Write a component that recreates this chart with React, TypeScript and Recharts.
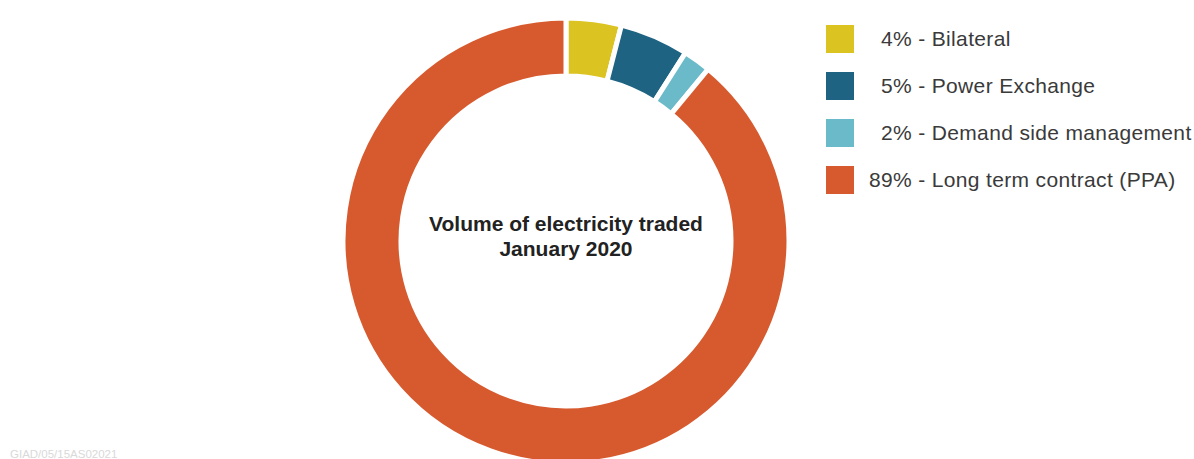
import { PieChart, Pie, Cell } from "recharts";

const categories = ["Bilateral", "Power Exchange", "Demand side management", "Long term contract (PPA)"];
const shares = [4, 5, 2, 89];
const colors = ["#dbc321", "#1e6482", "#6bbac9", "#d75a2f"];
const titleLines = ["Volume of electricity traded", "January 2020"];

const data = categories.map((name, i) => ({ name, value: shares[i] }));

const font = "'Liberation Sans', Arial, sans-serif";

function ChartLegend() {
  return (
    <div style={{ position: "absolute", left: 826, top: 15, fontFamily: font, fontSize: 21, letterSpacing: 0.35, color: "#3a3a3a" }}>
      {data.map((d, i) => (
        <div key={d.name} style={{ display: "flex", alignItems: "center", height: 47 }}>
          <div style={{ width: 28, height: 28, background: colors[i] }} />
          <span style={{ width: 58, textAlign: "right", display: "inline-block" }}>{d.value}%</span>
          <span style={{ whiteSpace: "pre" }}> - {d.name}</span>
        </div>
      ))}
    </div>
  );
}

export default function App() {
  return (
    <div style={{ position: "absolute", left: 0, top: 0, width: 1194, height: 459, background: "#fff", overflow: "hidden" }}>
      <PieChart width={1194} height={459} margin={{ top: 0, right: 0, bottom: 0, left: 0 }}>
        <Pie
          data={data}
          dataKey="value"
          nameKey="name"
          cx={566}
          cy={241}
          innerRadius={165}
          outerRadius={223}
          startAngle={90}
          endAngle={-270}
          stroke="#fff"
          strokeWidth={5}
          isAnimationActive={false}
        >
          {data.map((d, i) => (
            <Cell key={d.name} fill={colors[i]} />
          ))}
        </Pie>
      </PieChart>
      <div
        style={{
          position: "absolute",
          left: 366,
          width: 400,
          top: 211,
          textAlign: "center",
          fontFamily: font,
          fontSize: 21,
          fontWeight: 700,
          lineHeight: "25px",
          color: "#222",
        }}
      >
        <div>{titleLines[0]}</div>
        <div>{titleLines[1]}</div>
      </div>
      <ChartLegend />
      <div
        style={{
          position: "absolute",
          left: 10,
          top: 448,
          fontFamily: font,
          fontSize: 11.5,
          lineHeight: "12px",
          color: "#d9d9d9",
        }}
      >
        GIAD/05/15AS02021
      </div>
    </div>
  );
}
